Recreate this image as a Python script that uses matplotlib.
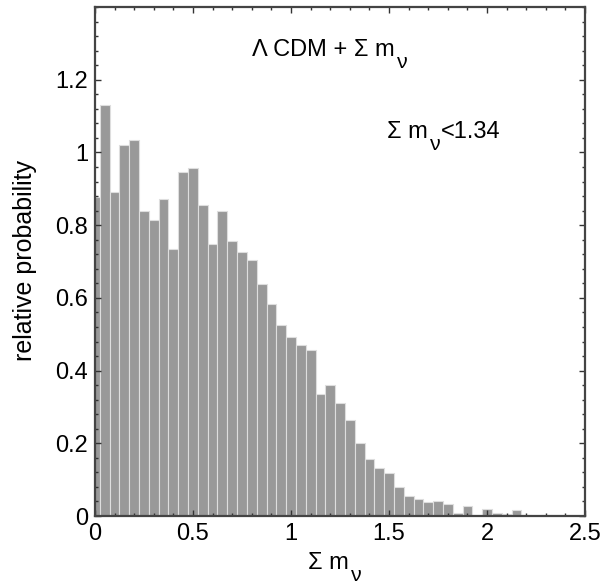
import numpy as np
import matplotlib
matplotlib.use("Agg")
from matplotlib import pyplot as plt
from matplotlib.ticker import MultipleLocator

plt.rcParams['font.family'] = ['Liberation Sans', 'DejaVu Sans']

# histogram of sum of neutrino masses, bins centred on multiples of 0.05
bin_width = 0.05
bin_centers = np.arange(50) * bin_width
rel_prob = [0.878, 1.13, 0.89, 1.02, 1.035, 0.84, 0.815, 0.872, 0.735, 0.946,
            0.958, 0.856, 0.749, 0.839, 0.757, 0.727, 0.705, 0.638, 0.583, 0.526,
            0.493, 0.471, 0.457, 0.336, 0.36, 0.312, 0.263, 0.2, 0.156, 0.131,
            0.119, 0.079, 0.055, 0.047, 0.038, 0.04, 0.032, 0.009, 0.027, 0.002,
            0.018, 0.007, 0.006, 0.017, 0.004, 0.001, 0.002, 0.002, 0.001, 0.0]

x_ticks = [0, 0.5, 1, 1.5, 2, 2.5]
x_labels = ['0', '0.5', '1', '1.5', '2', '2.5']
y_ticks = [0, 0.2, 0.4, 0.6, 0.8, 1.0, 1.2]
y_labels = ['0', '0.2', '0.4', '0.6', '0.8', '1', '1.2']


def sub_label(ax, x, y, main, sub, tail='', fs=16, coords=None):
    # IDL-style subscript: dropped well below the baseline
    t = ax.text(x, y, main, fontsize=fs, ha='left', va='baseline',
                transform=coords if coords is not None else ax.transData)
    s = ax.annotate(sub, xy=(1, 0), xycoords=t, xytext=(1.5, -0.45 * fs),
                    textcoords='offset points', fontsize=fs * 0.9,
                    va='bottom', ha='left')
    if tail:
        ax.annotate(tail, xy=(1, 0), xycoords=(s, t), xytext=(0.5, 0),
                    textcoords='offset points', fontsize=fs, va='bottom', ha='left')
    return t


fig = plt.figure(figsize=(6.05, 5.88), dpi=100)
ax = fig.add_axes([0.157, 0.1224, 0.81, 0.8656])

ax.bar(bin_centers, rel_prob, width=bin_width, color='#999999',
       edgecolor='#dedede', linewidth=0.8, zorder=1)

ax.set_xlim(0, 2.5)
ax.set_ylim(0, 1.4)
ax.set_xticks(x_ticks)
ax.set_xticklabels(x_labels)
ax.set_yticks(y_ticks)
ax.set_yticklabels(y_labels)
ax.xaxis.set_minor_locator(MultipleLocator(0.1))
ax.yaxis.set_minor_locator(MultipleLocator(0.04))
ax.tick_params(which='both', direction='in', top=True, right=True,
               color='#333333', width=1)
ax.tick_params(which='major', length=4.5, labelsize=17, pad=5)
ax.tick_params(which='minor', length=2.5)
for s in ax.spines.values():
    s.set_color('#444444')
    s.set_linewidth(1.6)
    s.set_zorder(3)

ax.set_ylabel('relative probability', fontsize=18)
ax.yaxis.set_label_coords(-0.118, 0.503)

# x label with dropped subscript
sub_label(ax, 0.509, 0.032, 'Σ m', 'ν', fs=17, coords=fig.transFigure)

sub_label(ax, 0.80, 1.265, 'Λ CDM + Σ m', 'ν', fs=17)
sub_label(ax, 1.49, 1.04, 'Σ m', 'ν', tail='<1.34', fs=17)

fig.savefig('out.png', dpi=100)
